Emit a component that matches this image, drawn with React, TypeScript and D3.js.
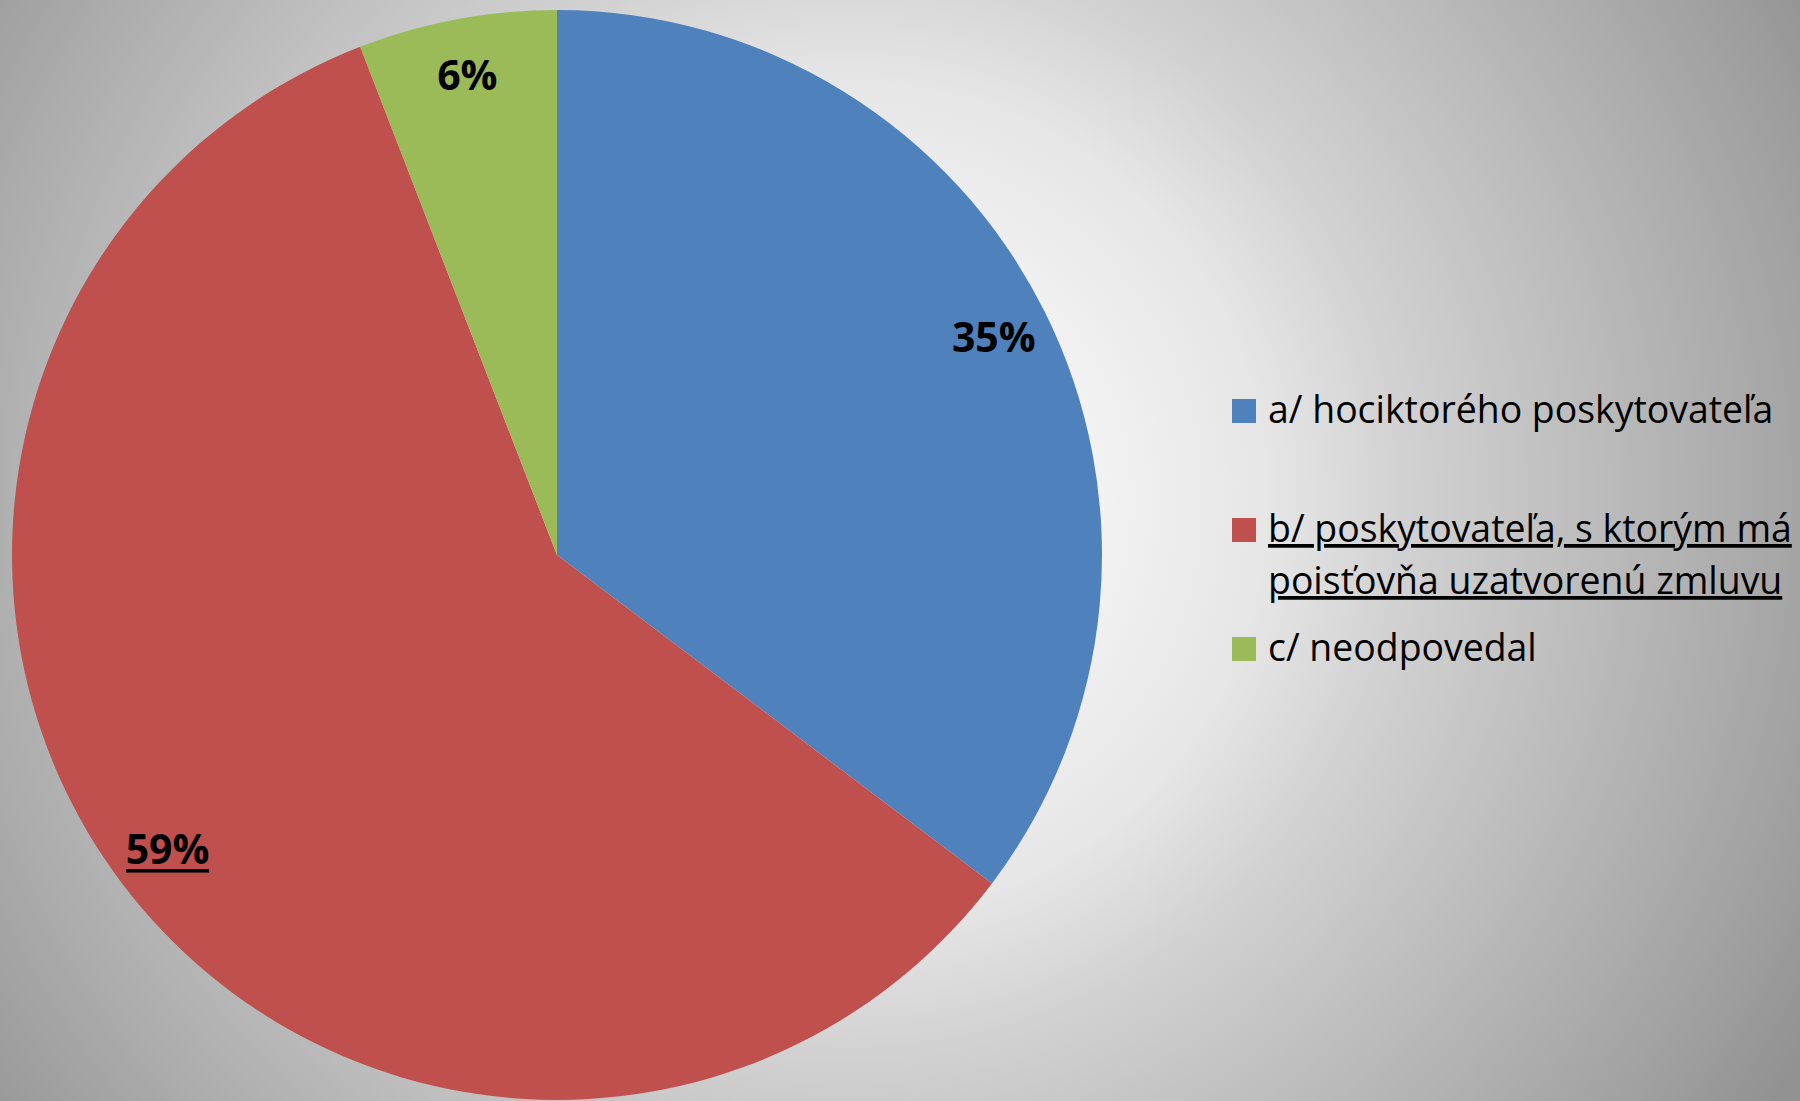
import React, { useEffect } from "react";
import * as d3 from "d3";

// ---- data ----
const categories = [
  "a/ hociktorého poskytovateľa",
  "b/ poskytovateľa, s ktorým má poisťovňa uzatvorenú zmluvu",
  "c/ neodpovedal",
];
const legendLines = [
  ["a/ hociktorého poskytovateľa"],
  ["b/ poskytovateľa, s ktorým má", "poisťovňa uzatvorenú zmluvu"],
  ["c/ neodpovedal"],
];
const counts = [12, 20, 2];
const colors = ["#4F81BD", "#C0504D", "#9BBB59"];
const highlightIndex = 1;

const W = 1800;
const H = 1101;

export default function App() {
  useEffect(() => {
    document.body.style.margin = "0";
  }, []);

  const cx = 557;
  const cy = 555;
  const R = 545;
  const total = d3.sum(counts);
  const pie = d3
    .pie<number>()
    .sort(null)
    .value((d) => d)
    .startAngle(0)
    .endAngle(2 * Math.PI);
  const arcs = pie(counts);
  const arcGen = d3.arc<d3.PieArcDatum<number>>().innerRadius(0).outerRadius(R);
  const labelR = 488;

  const legendX = 1232;
  const legendY0 = 399;
  const legendStep = 119;
  const sq = 24;
  const textX = 1268;
  const lineH = 52;

  return (
    <svg
      width={W}
      height={H}
      style={{ position: "absolute", left: 0, top: 0, display: "block" }}
      xmlns="http://www.w3.org/2000/svg"
    >
      <defs>
        <radialGradient id="bg" gradientUnits="userSpaceOnUse" cx={850} cy={500} r={1100}>
          <stop offset="0" stopColor="#ffffff" />
          <stop offset="0.2" stopColor="#f4f4f4" />
          <stop offset="0.38" stopColor="#e6e6e6" />
          <stop offset="0.5" stopColor="#d2d2d2" />
          <stop offset="0.7" stopColor="#b9b9b9" />
          <stop offset="0.9" stopColor="#a0a0a0" />
          <stop offset="1" stopColor="#929292" />
        </radialGradient>
      </defs>
      <rect x={0} y={0} width={W} height={H} fill="url(#bg)" />
      <g transform={`translate(${cx},${cy})`}>
        {arcs.map((a, i) => (
          <path key={i} d={arcGen(a) || ""} fill={colors[i]} />
        ))}
        {arcs.map((a, i) => {
          const mid = (a.startAngle + a.endAngle) / 2;
          const x = labelR * Math.sin(mid);
          const y = -labelR * Math.cos(mid);
          const pct = Math.round((counts[i] / total) * 100) + "%";
          const fs = 41;
          const w = pct.length === 3 ? 81 : 57;
          return (
            <g key={"l" + i}>
              <text
                x={x}
                y={y + 15}
                textAnchor="middle"
                fontFamily="'Open Sans', 'Noto Sans', sans-serif"
                fontWeight="bold"
                fontSize={fs}
                fill="#000"
              >
                {pct}
              </text>
              {i === highlightIndex && (
                <rect x={x - w / 2 - 1} y={y + 15 + 5} width={w + 2} height={3.5} fill="#000" />
              )}
            </g>
          );
        })}
      </g>
      <g>
        {legendLines.map((lines, i) => {
          const top = legendY0 + i * legendStep;
          return (
            <g key={"lg" + i}>
              <rect x={legendX} y={top} width={sq} height={sq} fill={colors[i]} />
              {lines.map((ln, j) => (
                <text
                  key={j}
                  x={textX}
                  y={top + 24 + j * lineH}
                  fontFamily="'Open Sans', 'Noto Sans', sans-serif"
                  fontSize={37.4}
                  fill="#000"
                  textDecoration={i === highlightIndex ? "underline" : undefined}
                  style={
                    i === highlightIndex
                      ? ({ textDecorationThickness: "3px", textUnderlineOffset: "5px" } as any)
                      : undefined
                  }
                >
                  {ln}
                </text>
              ))}
            </g>
          );
        })}
      </g>
    </svg>
  );
}
